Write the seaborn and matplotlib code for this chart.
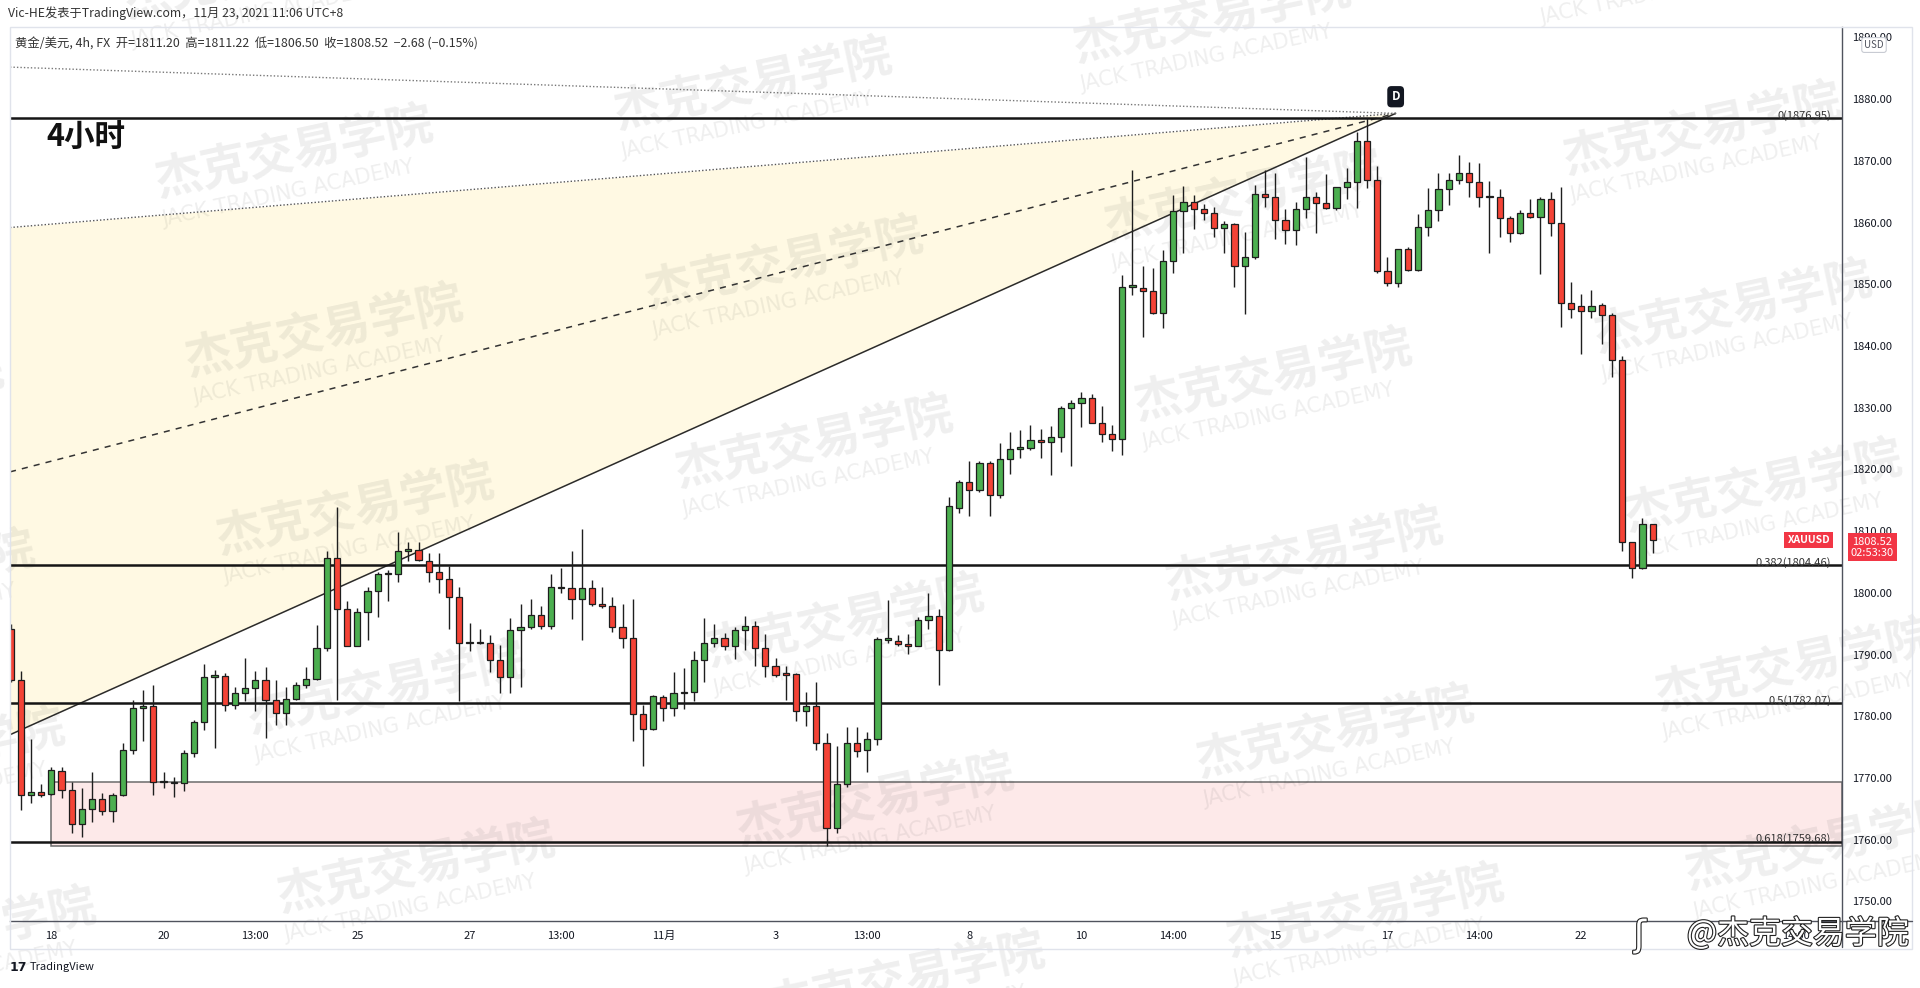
import numpy as np
import pandas as pd
import seaborn as sns
import matplotlib.pyplot as plt
import matplotlib.patheffects as pe
from matplotlib.patches import Rectangle
from matplotlib.lines import Line2D

# 4h XAUUSD candles (first one is cut by the left edge)
opens = [1794.2, 1785.9, 1767.2, 1767.7, 1767.4, 1771.2, 1768.0, 1762.6, 1764.9, 1766.6,
         1764.6, 1767.2, 1774.5, 1781.3, 1781.7, 1769.4, 1769.4, 1769.1, 1774.0, 1779.0,
         1786.4, 1786.5, 1781.8, 1783.8, 1784.5, 1785.9, 1782.6, 1780.5, 1782.8, 1785.0,
         1786.1, 1791.0, 1805.6, 1797.3, 1791.4, 1796.9, 1800.3, 1803.0, 1803.0, 1806.8,
         1807.0, 1805.2, 1803.4, 1802.2, 1799.3, 1791.8, 1792.1, 1791.8, 1789.1, 1786.4,
         1793.9, 1794.5, 1796.4, 1794.6, 1800.7, 1800.7, 1799.0, 1800.7, 1798.2, 1797.9,
         1794.4, 1792.6, 1780.3, 1777.9, 1783.1, 1781.4, 1783.7, 1784.0, 1789.1, 1791.8,
         1792.7, 1791.3, 1793.9, 1794.7, 1791.0, 1788.2, 1786.8, 1786.8, 1780.9, 1781.7,
         1775.7, 1761.9, 1769.0, 1775.6, 1774.5, 1776.3, 1792.4, 1792.2, 1791.7, 1791.4,
         1795.6, 1796.2, 1790.8, 1813.7, 1817.9, 1816.6, 1821.0, 1815.9, 1821.7, 1823.3,
         1823.4, 1824.8, 1824.4, 1825.3, 1829.9, 1830.7, 1831.6, 1827.6, 1825.7, 1824.9,
         1849.6, 1849.4, 1848.9, 1845.4, 1853.7, 1861.9, 1863.4, 1862.2, 1861.5, 1859.2,
         1859.8, 1853.0, 1854.4, 1864.6, 1864.2, 1860.5, 1858.8, 1862.2, 1864.2, 1863.2,
         1862.4, 1865.7, 1866.5, 1873.3, 1866.9, 1852.1, 1850.2, 1855.7, 1852.3, 1859.3,
         1862.1, 1865.4, 1866.9, 1868.1, 1866.5, 1864.2, 1864.2, 1860.7, 1858.3, 1861.5,
         1860.9, 1863.9, 1860.0, 1846.9, 1846.5, 1845.7, 1846.7, 1845.0, 1837.8, 1808.3,
         1804.0, 1811.20]
highs = [1795.0, 1787.4, 1776.3, 1769.0, 1771.8, 1771.8, 1769.4, 1768.3, 1771.0, 1767.6,
         1767.6, 1775.6, 1782.7, 1784.3, 1785.1, 1771.0, 1770.2, 1774.5, 1779.4, 1788.5,
         1787.5, 1787.0, 1784.8, 1789.5, 1787.4, 1787.9, 1785.9, 1784.7, 1785.6, 1788.0,
         1794.8, 1806.7, 1813.9, 1798.6, 1797.5, 1800.9, 1803.4, 1803.7, 1809.9, 1808.3,
         1808.3, 1806.4, 1806.4, 1804.3, 1800.9, 1795.1, 1794.2, 1793.2, 1791.5, 1795.9,
         1798.2, 1799.0, 1797.9, 1803.0, 1804.0, 1806.7, 1810.3, 1802.1, 1801.0, 1799.4,
         1798.2, 1799.0, 1781.8, 1783.4, 1783.4, 1787.2, 1787.8, 1790.6, 1795.9, 1794.9,
         1793.5, 1794.5, 1796.2, 1795.5, 1793.4, 1789.4, 1788.2, 1787.0, 1784.0, 1785.6,
         1777.2, 1775.1, 1778.3, 1778.3, 1777.4, 1792.9, 1798.9, 1793.2, 1793.4, 1796.1,
         1800.0, 1797.3, 1815.6, 1818.3, 1821.3, 1821.3, 1821.3, 1824.2, 1826.0, 1826.4,
         1827.2, 1826.6, 1827.0, 1830.2, 1831.3, 1832.6, 1832.3, 1830.3, 1827.2, 1851.5,
         1868.5, 1852.9, 1852.6, 1855.5, 1864.5, 1866.0, 1864.5, 1863.0, 1862.6, 1860.3,
         1860.0, 1858.5, 1866.1, 1868.5, 1868.1, 1862.2, 1863.4, 1870.6, 1865.0, 1867.9,
         1865.8, 1868.8, 1874.7, 1876.95, 1869.1, 1854.4, 1855.8, 1856.1, 1861.4, 1865.6,
         1868.0, 1868.1, 1871.0, 1869.9, 1869.7, 1866.8, 1865.4, 1861.1, 1862.0, 1863.8,
         1864.2, 1864.9, 1865.8, 1850.4, 1848.4, 1849.0, 1846.9, 1845.4, 1838.3, 1808.3,
         1812.2, 1811.22]
lows = [1785.5, 1764.8, 1765.9, 1766.9, 1767.2, 1766.7, 1761.0, 1760.4, 1762.8, 1764.0,
        1762.9, 1767.0, 1773.9, 1776.0, 1767.2, 1768.3, 1766.9, 1767.8, 1773.4, 1777.8,
        1774.8, 1780.9, 1781.1, 1782.4, 1780.9, 1776.4, 1778.6, 1778.6, 1782.6, 1784.5,
        1785.9, 1790.5, 1782.7, 1791.3, 1791.3, 1792.4, 1796.0, 1798.6, 1801.8, 1805.1,
        1805.1, 1801.8, 1800.0, 1794.2, 1782.4, 1790.5, 1791.7, 1787.2, 1783.7, 1783.8,
        1784.8, 1794.2, 1794.2, 1794.2, 1799.9, 1795.7, 1792.4, 1797.9, 1797.6, 1793.7,
        1791.0, 1776.0, 1771.9, 1777.8, 1779.3, 1780.0, 1781.1, 1782.5, 1785.6, 1791.2,
        1790.7, 1789.2, 1790.8, 1788.2, 1786.4, 1786.3, 1782.6, 1779.3, 1778.4, 1774.5,
        1758.9, 1761.1, 1768.5, 1773.4, 1770.9, 1775.3, 1791.9, 1791.3, 1790.1, 1791.3,
        1794.2, 1785.1, 1790.5, 1813.0, 1812.5, 1816.4, 1812.5, 1815.3, 1819.3, 1821.8,
        1823.1, 1821.8, 1819.1, 1822.9, 1820.5, 1826.9, 1827.5, 1824.4, 1823.0, 1822.3,
        1848.2, 1841.4, 1845.2, 1842.9, 1851.8, 1855.0, 1858.9, 1860.4, 1857.7, 1855.1,
        1849.5, 1845.2, 1854.1, 1862.5, 1857.3, 1856.5, 1856.4, 1860.7, 1858.3, 1862.2,
        1862.0, 1863.9, 1862.4, 1865.6, 1851.8, 1849.7, 1849.6, 1852.1, 1852.2, 1857.8,
        1860.3, 1862.9, 1866.3, 1864.2, 1862.6, 1855.0, 1857.7, 1856.9, 1858.2, 1860.7,
        1851.7, 1857.8, 1843.1, 1844.5, 1838.7, 1844.5, 1840.3, 1835.0, 1806.8, 1802.4,
        1803.8, 1806.50]
closes = [1785.9, 1767.2, 1767.7, 1767.2, 1771.3, 1768.0, 1762.6, 1764.9, 1766.6, 1764.6,
          1767.3, 1774.5, 1781.3, 1781.7, 1769.4, 1769.3, 1769.1, 1774.0, 1779.0, 1786.4,
          1786.6, 1781.8, 1783.8, 1784.5, 1785.9, 1782.6, 1780.5, 1782.8, 1785.0, 1786.1,
          1791.0, 1805.6, 1797.3, 1791.4, 1796.9, 1800.3, 1803.0, 1803.1, 1806.8, 1807.0,
          1805.3, 1803.4, 1802.2, 1799.3, 1791.8, 1792.1, 1791.8, 1789.1, 1786.4, 1793.9,
          1794.5, 1796.4, 1794.6, 1800.9, 1800.9, 1799.0, 1800.7, 1798.2, 1797.9, 1794.4,
          1792.6, 1780.3, 1777.9, 1783.2, 1781.4, 1783.7, 1784.0, 1789.1, 1791.8, 1792.7,
          1791.3, 1793.9, 1794.7, 1791.0, 1788.2, 1786.7, 1786.7, 1780.9, 1781.7, 1775.7,
          1761.9, 1769.0, 1775.6, 1774.4, 1776.3, 1792.5, 1792.5, 1791.7, 1791.4, 1795.6,
          1796.2, 1790.8, 1814.0, 1818.0, 1816.6, 1821.0, 1815.9, 1821.7, 1823.3, 1823.4,
          1824.8, 1824.4, 1825.3, 1829.9, 1830.7, 1831.6, 1827.6, 1825.7, 1824.9, 1849.6,
          1849.7, 1848.9, 1845.4, 1853.7, 1861.9, 1863.4, 1862.2, 1861.5, 1859.1, 1859.8,
          1853.0, 1854.4, 1864.6, 1864.2, 1860.5, 1858.8, 1862.2, 1864.2, 1863.2, 1862.4,
          1865.7, 1866.5, 1873.3, 1866.9, 1852.1, 1850.2, 1855.7, 1852.3, 1859.3, 1862.1,
          1865.4, 1866.9, 1868.1, 1866.5, 1864.2, 1864.1, 1860.7, 1858.3, 1861.5, 1860.9,
          1863.9, 1860.0, 1846.9, 1846.0, 1845.7, 1846.5, 1845.0, 1837.8, 1808.3, 1804.0,
          1811.2, 1808.52]

time_tick_pos = [3, 14, 23, 33, 44, 53, 63, 74, 83, 93, 104, 113, 123, 134, 143, 153, 174]
time_tick_labels = ['18', '20', '13:00', '25', '27', '13:00', '11月', '3', '13:00',
                    '8', '10', '14:00', '15', '17', '14:00', '22', '14:00']
price_ticks = list(range(1750, 1891, 10))

fib_levels = [1876.95, 1804.46, 1782.07, 1759.68]
fib_names = ['0', '0.382', '0.5', '0.618']

zone_start = 2.94
zone_top = 1769.4
zone_bottom = 1758.9

# fan drawn from point D back to the left edge
d_x, d_y = 134.8, 1877.7
fan_left = -1.05
fan_solid = 1777.0
fan_dashed = 1819.6
fan_upper = 1859.2
fan_top = 1885.2

x_max = 178.56

df = pd.DataFrame({'open': opens, 'high': highs, 'low': lows, 'close': closes})
df['x'] = np.arange(len(df)) - 1
df['up'] = df['close'] >= df['open']

sns.set_theme(style='white')
plt.rcParams['font.family'] = ['Noto Sans CJK SC', 'DejaVu Sans']

fig = plt.figure(figsize=(19.2, 9.88), dpi=100)
ax = fig.add_axes([10 / 1920, 67 / 988, 1832 / 1920, 894 / 988])
ax.set_facecolor('white')

# yellow fan area and its lines
xs = [fan_left, d_x]
ax.fill_between(xs, [fan_solid, d_y], [fan_upper, d_y], color='#fff9e3', lw=0, zorder=1)
ax.plot(xs, [fan_solid, d_y], color='#2b2b2b', lw=1.1, zorder=2)
ax.plot(xs, [fan_dashed, d_y], color='#333333', lw=1.1, ls=(0, (4, 4)), zorder=2)
ax.plot(xs, [fan_upper, d_y], color='#555555', lw=1, ls=(0, (1, 1.5)), zorder=2)
ax.plot(xs, [fan_top, d_y], color='#777777', lw=1, ls=(0, (1, 1.5)), zorder=2)

# pink demand zone
ax.add_patch(Rectangle((zone_start, zone_bottom), x_max - zone_start, zone_top - zone_bottom,
                       facecolor='#fde9e9', edgecolor='#6b6b6b', lw=1.1, zorder=1))

# watermarks
for c in range(-1, 4):
    for r in range(-1, 6):
        px = 294 + 30.6 * r + 459.2 * c
        py = 153 + 178.8 * r - 67.3 * c
        ax.text(px / 1920, 1 - py / 988, '杰克交易学院', transform=fig.transFigure,
                fontsize=34, weight='bold', color='k', alpha=0.07, rotation=12,
                ha='center', va='center', clip_on=False, zorder=1.5)
        ax.text((px - 6) / 1920, 1 - (py + 40) / 988, 'JACK TRADING ACADEMY',
                transform=fig.transFigure, fontsize=15, color='k', alpha=0.07,
                rotation=12, ha='center', va='center', clip_on=False, zorder=1.5,
                family='DejaVu Sans')

# fibonacci levels
ax.hlines(fib_levels, fan_left, x_max, color='#151515', lw=1.8, zorder=2.5)
for lvl, name in zip(fib_levels, fib_names):
    ax.annotate(f'{name}({lvl:.2f})', xy=(1, lvl), xycoords=('axes fraction', 'data'),
                xytext=(-8, 2), textcoords='offset points', ha='right', va='center',
                fontsize=8, color='#333333', zorder=2.6)

# candles
colors = np.where(df['up'], '#4caf50', '#f44336')
ax.vlines(df['x'], df['low'], df['high'], color='#1e1e1e', lw=1, zorder=3)
body_bottom = df[['open', 'close']].min(axis=1)
body_h = (df['close'] - df['open']).abs().clip(lower=0.25)
ax.bar(df['x'], body_h, bottom=body_bottom, width=0.62, color=colors,
       edgecolor='#1e1e1e', linewidth=0.9, zorder=4)

ax.annotate('D', xy=(d_x, d_y), xytext=(0, 12), textcoords='offset points',
            ha='center', va='center', color='white', fontsize=8.5, weight='bold',
            bbox=dict(boxstyle='round,pad=0.35', fc='#131722', ec='none'), zorder=6)

ax.set_xlim(fan_left, x_max)
ax.set_ylim(1746.81, 1891.70)
ax.yaxis.tick_right()
ax.set_yticks(price_ticks)
ax.set_yticklabels([f'{v:.2f}' for v in price_ticks])
ax.tick_params(axis='y', length=0, pad=7, labelsize=8, labelcolor='#131722')
ax.set_xticks(time_tick_pos)
ax.set_xticklabels(time_tick_labels)
ax.tick_params(axis='x', length=0, pad=7, labelsize=8, labelcolor='#131722')
for s in ['top', 'left']:
    ax.spines[s].set_visible(False)
for s in ['right', 'bottom']:
    ax.spines[s].set_color('#50535e')
    ax.spines[s].set_linewidth(1)
ax.grid(False)

# last price labels
ax.annotate('XAUUSD', xy=(1, closes[-1]), xycoords=('axes fraction', 'data'),
            xytext=(-24, 0), textcoords='offset points', ha='center', va='center',
            color='white', fontsize=7.5, weight='bold', annotation_clip=False,
            bbox=dict(boxstyle='square,pad=0.3', fc='#f23645', ec='none'), zorder=7)
ax.annotate(f'{closes[-1]:.2f}\n02:53:30', xy=(1, closes[-1]), xycoords=('axes fraction', 'data'),
            xytext=(22, -5), textcoords='offset points', ha='center', va='center',
            color='white', fontsize=8, linespacing=1.1, annotation_clip=False,
            bbox=dict(boxstyle='square,pad=0.3', fc='#f23645', ec='none'), zorder=7)

# frame, axis extensions
fig.add_artist(Rectangle((10 / 1920, 1 - 949 / 988), 1902 / 1920, 922 / 988,
                         transform=fig.transFigure, fill=False, ec='#e0e3eb', lw=1))
fig.add_artist(Line2D([1842 / 1920, 1912 / 1920], [67 / 988, 67 / 988], color='#50535e', lw=1))
fig.add_artist(Line2D([1842 / 1920, 1842 / 1920], [41 / 988, 67 / 988], color='#50535e', lw=1))

fig.text(1874 / 1920, 1 - 45 / 988, 'USD', fontsize=7, color='#50535e', ha='center', va='center',
         bbox=dict(boxstyle='round,pad=0.25', fc='white', ec='#c8cbd3', lw=0.8))

# header text
fig.text(8 / 1920, 1 - 13 / 988, 'Vic-HE发表于TradingView.com，11月 23, 2021 11:06 UTC+8',
         fontsize=8.8, color='#333333', ha='left', va='center')
fig.text(15 / 1920, 1 - 44 / 988,
         f'黄金/美元, 4h, FX  开={opens[-1]:.2f}  高={highs[-1]:.2f}  低={lows[-1]:.2f}  '
         f'收={closes[-1]:.2f}  −2.68 (−0.15%)',
         fontsize=8.9, color='#333333', ha='left', va='center')
fig.text(46 / 1920, 1 - 137 / 988, '4小时', fontsize=22, weight='bold', color='#111111',
         ha='left', va='center')

fig.text(10 / 1920, 1 - 967 / 988, '17', fontsize=9, weight='heavy', color='#131722',
         ha='left', va='center', family='DejaVu Sans')
fig.text(30 / 1920, 1 - 967 / 988, 'TradingView', fontsize=8, color='#131722',
         ha='left', va='center')

# platform watermark, outlined
outline = [pe.withStroke(linewidth=1.6, foreground='#222222')]
fig.text(1640 / 1920, 1 - 936 / 988, 'ʃ', fontsize=26, color='white', ha='center',
         va='center', zorder=10, path_effects=outline, family='DejaVu Sans')
fig.text(1798 / 1920, 1 - 934 / 988, '@杰克交易学院', fontsize=23, color='white',
         ha='center', va='center', zorder=10, path_effects=outline)

fig.savefig('out.png', dpi=100)
